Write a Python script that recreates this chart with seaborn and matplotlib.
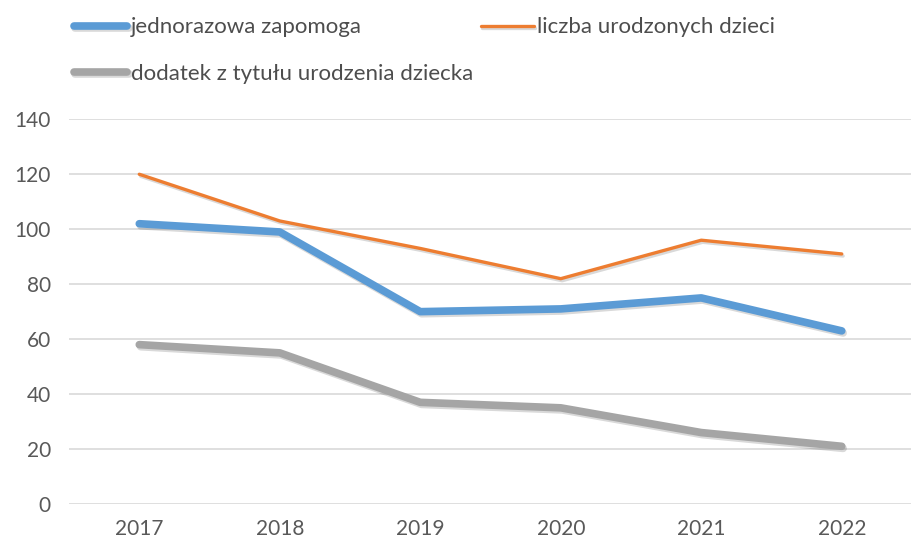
import matplotlib
matplotlib.use("Agg")
import matplotlib.pyplot as plt
import matplotlib.patheffects as pe
import seaborn as sns
import pandas as pd

years = ["2017", "2018", "2019", "2020", "2021", "2022"]
zapomoga = [102, 99, 70, 71, 75, 63]
urodzenia = [120, 103, 93, 82, 96, 91]
dodatek = [58, 55, 37, 35, 26, 21]

labels = ["jednorazowa zapomoga", "liczba urodzonych dzieci", "dodatek z tytułu urodzenia dziecka"]
colors = ["#5B9BD5", "#ED7D31", "#A5A5A5"]
widths = [5.5, 2.4, 5.5]

df = pd.DataFrame({"rok": years * 3,
                   "wartosc": zapomoga + urodzenia + dodatek,
                   "seria": [labels[0]] * 6 + [labels[1]] * 6 + [labels[2]] * 6})

sns.set_style("white")
plt.rcParams['font.family'] = ['Lato', 'DejaVu Sans']

fig = plt.figure(figsize=(9.12, 5.43), dpi=100)
ax = fig.add_axes([0.0757, 0.0718, 0.9243, 0.7085])

shadow = [pe.SimpleLineShadow(offset=(1, -1.5), shadow_color="#000000", alpha=0.15), pe.Normal()]
for lab, col, lw in zip(labels, colors, widths):
    sns.lineplot(data=df[df.seria == lab], x="rok", y="wartosc", color=col, linewidth=lw,
                 label=lab, ax=ax, sort=False, solid_capstyle="round", path_effects=shadow)

ax.set_xlim(-0.5, 5.5)
ax.set_ylim(0, 140)
ax.set_yticks(range(0, 141, 20))
ax.set_xlabel("")
ax.set_ylabel("")
ax.grid(axis="y", color="#D9D9D9", linewidth=1.2)
ax.set_axisbelow(True)
for s in ax.spines.values():
    s.set_visible(False)
ax.tick_params(axis="both", length=0, labelsize=15, colors="#595959")
ax.tick_params(axis="y", pad=13)
ax.tick_params(axis="x", pad=11)

# legend filled row by row: blue, orange / gray
handles, labs = ax.get_legend_handles_labels()
ax.get_legend().remove()
order = [0, 2, 1]
leg = fig.legend([handles[i] for i in order], [labs[i] for i in order],
                 loc="upper left", bbox_to_anchor=(0.081, 0.968),
                 ncol=2, frameon=False, fontsize=16, handlelength=2.4, handletextpad=0.15,
                 labelspacing=1.2, columnspacing=0.35, borderaxespad=0, borderpad=0)
for t in leg.get_texts():
    t.set_color("#4d4d4d")
for h, i in zip(leg.get_lines(), order):
    h.set_linewidth(widths[i])
    h.set_solid_capstyle("round")

fig.savefig("out.png", dpi=100)
